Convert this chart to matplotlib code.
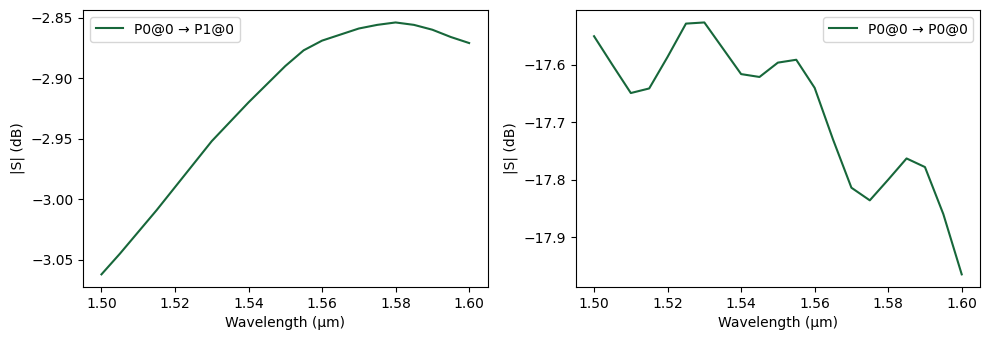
import numpy as np
import matplotlib.pyplot as plt

wavelength = np.round(np.arange(1.500, 1.6001, 0.005), 3)

s21_db = [-3.062, -3.045, -3.027, -3.009, -2.990, -2.971, -2.952, -2.936,
          -2.920, -2.905, -2.890, -2.877, -2.869, -2.864, -2.859, -2.856,
          -2.854, -2.856, -2.860, -2.866, -2.871]

s11_db = [-17.550, -17.600, -17.649, -17.641, -17.586, -17.528, -17.526,
          -17.571, -17.616, -17.621, -17.596, -17.591, -17.640, -17.730,
          -17.814, -17.836, -17.800, -17.763, -17.778, -17.860, -17.965]

color = "#17673a"

fig, axes = plt.subplots(1, 2, figsize=(9.89, 3.4), dpi=100)

axes[0].plot(wavelength, s21_db, color=color, label="P0@0 \u2192 P1@0")
axes[0].set_xlabel("Wavelength (\u00b5m)")
axes[0].set_ylabel("|S| (dB)")
axes[0].legend(loc="upper left")

axes[1].plot(wavelength, s11_db, color=color, label="P0@0 \u2192 P0@0")
axes[1].set_xlabel("Wavelength (\u00b5m)")
axes[1].set_ylabel("|S| (dB)")
axes[1].legend(loc="upper right")

plt.subplots_adjust(left=0.084, right=0.991, top=0.971, bottom=0.156, wspace=0.218)
plt.savefig("out.png")
